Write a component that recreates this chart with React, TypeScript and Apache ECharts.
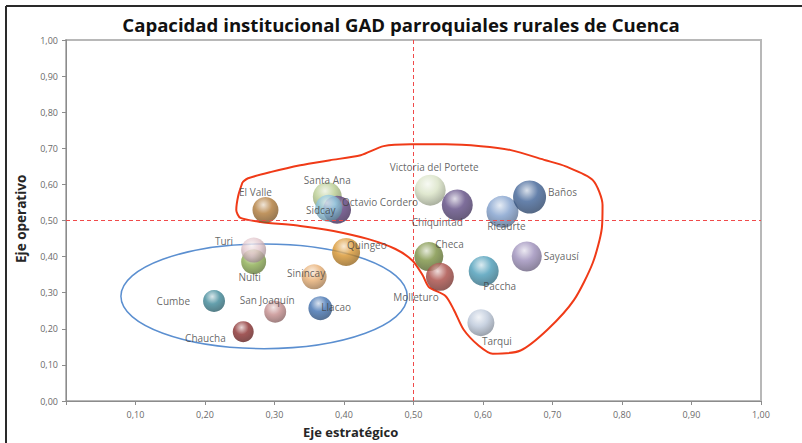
import React, { useEffect, useRef } from "react";
import * as echarts from "echarts";

const nombres = [
  "El Valle", "Santa Ana", "Octavio Cordero", "Sidcay", "Victoria del Portete",
  "Chiquintad", "Ricaurte", "Baños", "Nulti", "Turi", "Quingeo", "Sinincay",
  "Cumbe", "San Joaquín", "Llacao", "Chaucha", "Checa", "Molleturo", "Paccha",
  "Sayausí", "Tarqui",
];
const ejeEstrategico = [
  0.287, 0.376, 0.39, 0.378, 0.524, 0.563, 0.628, 0.667, 0.27, 0.27, 0.403,
  0.357, 0.213, 0.301, 0.366, 0.255, 0.522, 0.538, 0.601, 0.663, 0.597,
];
const ejeOperativo = [
  0.529, 0.566, 0.53, 0.534, 0.584, 0.543, 0.524, 0.565, 0.386, 0.418, 0.413,
  0.344, 0.277, 0.247, 0.257, 0.192, 0.40, 0.344, 0.36, 0.40, 0.217,
];
const tamano = [
  26, 29, 28, 27, 31, 31, 32, 33, 25, 25, 28, 25, 22, 22, 24, 21, 29, 28, 30,
  30, 27,
];
const umbralX = 0.5;
const umbralY = 0.5;

// styles (not data)
const colores = [
  "#B07A38", "#B8CC90", "#5C3F7C", "#8CC4DE", "#D8E2C4", "#5E4A82", "#809FCC",
  "#3F6296", "#8DAE52", "#E2C6CC", "#D9952E", "#E8AE72", "#3E8898", "#C48C8C",
  "#3F70B0", "#8A2E2E", "#7B9142", "#A84A44", "#4A9CB8", "#9C8EBA", "#BCC8DA",
];
const etiquetas: [string, number, number][] = [
  ["top", -10, 5],
  ["top", 0, 8],
  ["right", -14, -8],
  ["inside", -8, 2],
  ["top", 4, 2],
  ["bottom", -20, -8],
  ["bottom", 4, -12],
  ["right", -3, -5],
  ["bottom", -4, -7],
  ["left", -3, -9],
  ["right", -18, -7],
  ["inside", -8, -4],
  ["left", -8, 0],
  ["top", -8, 9],
  ["right", -16, -1],
  ["left", -2, 6],
  ["right", -13, -13],
  ["bottom", -24, -4],
  ["bottom", 16, -10],
  ["right", -3, -1],
  ["bottom", 16, -5],
];

// hand-drawn red outline, in data coordinates
const contornoX = [
  0.254, 0.248, 0.245, 0.251, 0.28, 0.337, 0.385, 0.434, 0.474, 0.499, 0.513,
  0.522, 0.546, 0.558, 0.572, 0.594, 0.614, 0.654, 0.693, 0.731, 0.758, 0.771,
  0.772, 0.758, 0.719, 0.69, 0.64, 0.597, 0.546, 0.496, 0.457, 0.424, 0.38,
  0.337, 0.294, 0.262, 0.254,
];
const contornoY = [
  0.606, 0.57, 0.529, 0.507, 0.496, 0.485, 0.471, 0.449, 0.421, 0.388, 0.349,
  0.316, 0.291, 0.253, 0.198, 0.153, 0.131, 0.14, 0.198, 0.28, 0.383, 0.479,
  0.543, 0.612, 0.65, 0.667, 0.695, 0.706, 0.711, 0.711, 0.706, 0.681, 0.667,
  0.653, 0.634, 0.617, 0.606,
];
// blue ellipse (center and radii in data units)
const elipse = { cx: 0.285, cy: 0.29, rx: 0.206, ry: 0.145 };

function mix(hex: string, target: number, t: number) {
  const n = parseInt(hex.slice(1), 16);
  const r = (n >> 16) & 255, g = (n >> 8) & 255, b = n & 255;
  const f = (c: number) => Math.round(c + (target - c) * t);
  return `rgb(${f(r)},${f(g)},${f(b)})`;
}

const fmt = (v: number) => v.toFixed(2).replace(".", ",");

export default function App() {
  const ref = useRef<HTMLDivElement>(null);
  useEffect(() => {
    document.body.style.margin = "0";
    const chart = echarts.init(ref.current!, undefined, { renderer: "svg" });
    const data = nombres.map((n, i) => ({
      name: n,
      value: [ejeEstrategico[i], ejeOperativo[i], tamano[i]],
      itemStyle: {
        color: new echarts.graphic.RadialGradient(0.42, 0.3, 0.75, [
          { offset: 0, color: mix(colores[i], 255, 0.75) },
          { offset: 0.45, color: colores[i] },
          { offset: 1, color: mix(colores[i], 0, 0.35) },
        ]),
      },
      label: {
        position: etiquetas[i][0] as any,
        offset: [etiquetas[i][1], etiquetas[i][2]],
      },
    }));
    const dash = { type: [4, 3] as any, color: "#F04A4A", width: 1 };
    chart.setOption({
      animation: false,
      title: {
        text: "Capacidad institucional GAD parroquiales rurales de Cuenca",
        left: "center",
        top: 10,
        textStyle: {
          fontFamily: "Open Sans",
          fontWeight: "bold",
          fontSize: 18.6,
          color: "#111",
        },
      },
      grid: {
        left: 66,
        right: 41,
        top: 40,
        bottom: 42,
        show: true,
        borderColor: "#B8B8B8",
        borderWidth: 2,
      },
      xAxis: {
        type: "value",
        min: 0,
        max: 1,
        interval: 0.1,
        axisLine: { show: true, lineStyle: { color: "#8C8C8C" } },
        axisTick: { show: true, length: 4, lineStyle: { color: "#8C8C8C" } },
        splitLine: { show: false },
        axisLabel: {
          formatter: (v: number) => (v === 0 ? "" : fmt(v)),
          fontSize: 9,
          color: "#6A6A6A",
          margin: 9,
          fontFamily: "Open Sans",
        },
      },
      yAxis: {
        type: "value",
        min: 0,
        max: 1,
        interval: 0.1,
        axisLine: { show: true, lineStyle: { color: "#8C8C8C" } },
        axisTick: { show: true, length: 4, lineStyle: { color: "#8C8C8C" } },
        splitLine: { show: false },
        axisLabel: {
          formatter: (v: number) => fmt(v),
          fontSize: 9,
          color: "#6A6A6A",
          margin: 8,
          fontFamily: "Open Sans",
        },
      },
      series: [
        {
          type: "line",
          data: contornoX.map((x, i) => [x, contornoY[i]]),
          smooth: 0.25,
          symbol: "none",
          silent: true,
          lineStyle: { color: "#F03A17", width: 2 },
          z: 1,
        },
        {
          type: "line",
          data: [[umbralX, 0], [umbralX, 1]],
          symbol: "none",
          silent: true,
          lineStyle: dash,
          z: 1,
        },
        {
          type: "scatter",
          data,
          symbolSize: (v: number[]) => v[2],
          z: 3,
          label: {
            show: true,
            formatter: "{b}",
            fontSize: 10,
            color: "#404040",
            fontFamily: "Open Sans",
          },
          markLine: {
            silent: true,
            symbol: "none",
            label: { show: false },
            lineStyle: dash,
            data: [{ yAxis: umbralY, lineStyle: dash }],
          },
        },
      ],
    });
    const c = chart.convertToPixel({ gridIndex: 0 }, [elipse.cx, elipse.cy]) as number[];
    const e = chart.convertToPixel({ gridIndex: 0 }, [elipse.cx + elipse.rx, elipse.cy + elipse.ry]) as number[];
    chart.setOption({
      graphic: [
        {
          type: "ellipse",
          shape: { cx: c[0], cy: c[1], rx: Math.abs(e[0] - c[0]), ry: Math.abs(c[1] - e[1]) },
          style: { fill: "none", stroke: "#5B8FD0", lineWidth: 1.5 },
          z: 2,
          silent: true,
        },
        {
          type: "text",
          left: 303,
          top: 425,
          style: {
            text: "Eje estratégico",
            font: "bold 13px 'Open Sans'",
            fill: "#262626",
          },
        },
        {
          type: "text",
          x: 14,
          y: 263,
          rotation: Math.PI / 2,
          style: {
            text: "Eje operativo",
            font: "bold 13.5px 'Open Sans'",
            fill: "#262626",
          },
        },
        {
          type: "line",
          shape: { x1: 6, y1: 6, x2: 802, y2: 6 },
          style: { stroke: "#2A2A2A", lineWidth: 2 },
        },
        {
          type: "line",
          shape: { x1: 6, y1: 6, x2: 6, y2: 443 },
          style: { stroke: "#2A2A2A", lineWidth: 2 },
        },
      ],
    });
    return () => chart.dispose();
  }, []);
  return <div ref={ref} style={{ width: 802, height: 443 }} />;
}
